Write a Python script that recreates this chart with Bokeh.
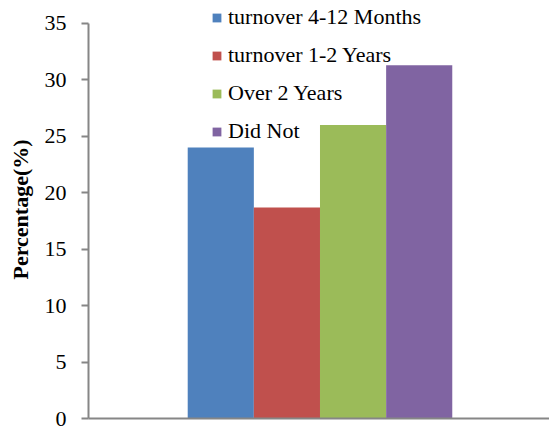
from bokeh.plotting import figure
from bokeh.models import Range1d, FixedTicker, Legend, LegendItem
from bokeh.embed import file_html
from bokeh.resources import INLINE

categories = ["turnover 4-12 Months", "turnover 1-2 Years", "Over 2 Years", "Did Not"]
values = [24.0, 18.7, 26.0, 31.3]
colors = ["#4F81BD", "#C0504D", "#9BBB59", "#8064A2"]
y_ticks = [0, 5, 10, 15, 20, 25, 30, 35]

FONT = "Liberation Serif"
AXIS_GREY = "#868686"

p = figure(width=549, height=430, output_backend="svg", toolbar_location=None,
           x_range=Range1d(0, 6.97), y_range=Range1d(0, 37.03),
           min_border_left=88, min_border_right=0, min_border_top=0, min_border_bottom=12)
p.outline_line_color = None
p.xgrid.visible = False
p.ygrid.visible = False
p.background_fill_color = "white"
p.border_fill_color = "white"

items = []
for i, (cat, val, col) in enumerate(zip(categories, values, colors)):
    r = p.vbar(x=i + 2, top=val, bottom=0, width=1.0, fill_color=col, line_color=None)
    items.append(LegendItem(label=cat, renderers=[r]))

# Y axis
ya = p.yaxis[0]
ya.ticker = FixedTicker(ticks=y_ticks)
ya.bounds = (0, 35)
ya.axis_line_color = AXIS_GREY
ya.axis_line_width = 2
ya.major_tick_line_color = AXIS_GREY
ya.major_tick_line_width = 2
ya.major_tick_out = 7
ya.major_tick_in = 0
ya.minor_tick_line_color = None
ya.major_label_text_font = FONT
ya.major_label_text_font_size = "22px"
ya.major_label_text_color = "black"
ya.major_label_standoff = 15
ya.axis_label = "Percentage(%)"
ya.axis_label_text_font = FONT
ya.axis_label_text_font_size = "22px"
ya.axis_label_text_font_style = "bold"
ya.axis_label_text_color = "black"
ya.axis_label_standoff = 9

# X axis: line only
xa = p.xaxis[0]
xa.axis_line_color = AXIS_GREY
xa.axis_line_width = 2
xa.major_tick_line_color = None
xa.minor_tick_line_color = None
xa.major_label_text_font_size = "0px"
xa.major_label_text_color = None

legend = Legend(items=items, location=(123, 274), orientation="vertical",
                padding=0, margin=0, spacing=12, glyph_width=11, glyph_height=11,
                label_height=24, label_standoff=6,
                label_text_font=FONT, label_text_font_size="22px", label_text_color="black",
                border_line_color=None, background_fill_alpha=0)
p.add_layout(legend, "center")

open("out.html", "w").write(file_html(p, INLINE))
